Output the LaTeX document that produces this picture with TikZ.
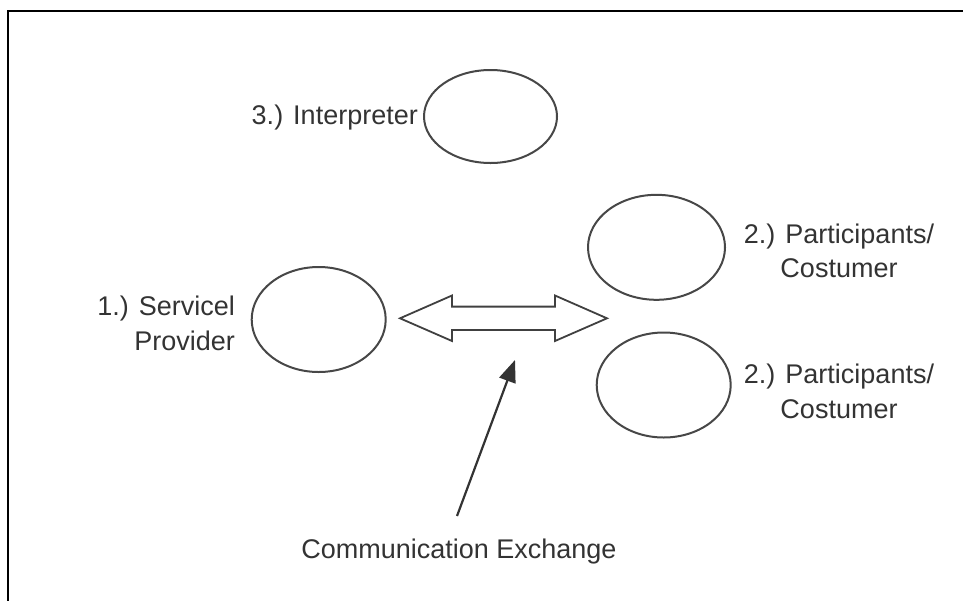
\documentclass[tikz,border=0pt]{standalone}
\usepackage{fontspec}
\setmainfont{Liberation Sans}
\usetikzlibrary{arrows.meta,shapes.geometric}
\begin{document}
\begin{tikzpicture}[x=1pt,y=-1pt,
  oval/.style={ellipse, draw=black!72, line width=2pt, inner sep=0pt, fill=white},
  lbl/.style={inner sep=0pt, text=black!80, font=\fontsize{27}{34}\selectfont},
  dblarrow/.style={draw=black!75, line width=1.8pt, fill=white, line join=miter},
  pointer/.style={draw=black!80, line width=2.2pt, -{Triangle[length=22pt,width=17pt]}},
  frameline/.style={draw=black, line width=2.5pt}]
\useasboundingbox (0,0) rectangle (963,600);
% frame (top and left edges)
\draw[frameline] (963,11) -- (8,11) -- (8,601);
% ovals
\node[oval, minimum width=133pt, minimum height=93pt] (interp) at (490.5,116.5) {};
\node[oval, minimum width=134pt, minimum height=105pt] (provider) at (318.7,319.5) {};
\node[oval, minimum width=137pt, minimum height=105pt] (partA) at (656.5,247.3) {};
\node[oval, minimum width=134pt, minimum height=105pt] (partB) at (663.7,385) {};
% labels
\node[lbl, anchor=base east] (interpL) at (418,124) {3.) Interpreter};
\node[lbl, anchor=base east] (providerL) at (235,315)
  {\fontsize{27}{35}\selectfont\begin{tabular}[t]{@{}r@{}}1.) Servicel\\Provider\end{tabular}};
\node[lbl, anchor=base] (partAL) at (839,243)
  {\fontsize{27}{34}\selectfont\begin{tabular}[t]{@{}c@{}}2.) Participants/\\Costumer\end{tabular}};
\node[lbl, anchor=base] (partBL) at (839,383)
  {\fontsize{27}{35}\selectfont\begin{tabular}[t]{@{}c@{}}2.) Participants/\\Costumer\end{tabular}};
\node[lbl, anchor=base] (comm) at (459,558) {Communication Exchange};
% double-headed exchange arrow
\draw[dblarrow] (400,318.3) -- (452,295.5) -- (452,306.6) -- (555,306.6) -- (555,295.5)
  -- (607,318.3) -- (555,341) -- (555,330) -- (452,330) -- (452,341) -- cycle;
% pointer from label to exchange arrow
\coordinate (tail) at (457,516);
\coordinate (tip) at (515,360);
\draw[pointer] (tail) -- (tip);
\end{tikzpicture}
\end{document}
